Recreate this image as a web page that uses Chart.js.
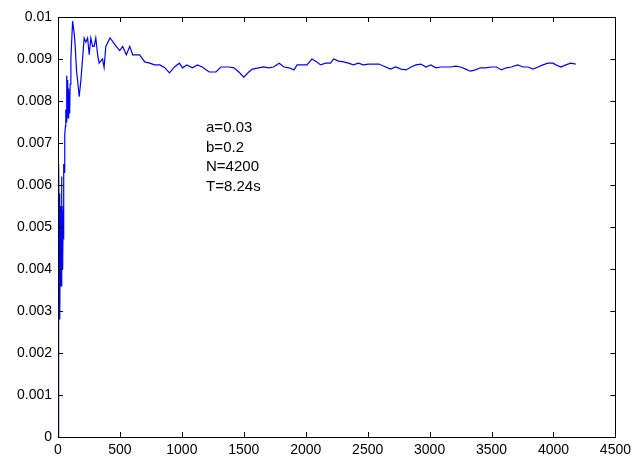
<!DOCTYPE html>
<html>
<head>
<meta charset="utf-8">
<script src="https://cdn.jsdelivr.net/npm/chart.js@4/dist/chart.umd.min.js"></script>
<style>
  html, body { margin: 0; padding: 0; background: #fff; }
  #wrap { width: 636px; height: 459px; position: relative; }
</style>
</head>
<body>
<div id="wrap"><canvas id="c" width="636" height="459"></canvas></div>
<script>
// Iteration index and the running estimate
const iterations = [
  0, 2, 4, 6, 8, 10, 12, 14, 16, 18, 20, 22, 24, 26, 28, 30, 32, 34, 36, 38,
  40, 42, 44, 46, 48, 50, 53, 56, 60, 63, 66, 69, 72, 75, 78, 81, 84, 88, 91, 94,
  98, 104, 110, 118, 131, 139, 150, 158, 171, 185, 193, 211, 225, 239, 252, 265,
  280, 292, 305, 320, 332, 359, 372, 386, 420, 445, 470, 498, 522, 552, 579, 603,
  659, 700, 740, 780, 820, 860, 900, 940, 980, 1005, 1040, 1085, 1125, 1165, 1220,
  1275, 1315, 1380, 1420, 1460, 1500, 1540, 1570, 1620, 1660, 1700, 1740, 1785,
  1825, 1865, 1905, 1930, 1970, 2010, 2050, 2090, 2120, 2160, 2200, 2225, 2265,
  2305, 2345, 2385, 2425, 2465, 2505, 2545, 2590, 2645, 2685, 2725, 2770, 2810,
  2850, 2890, 2930, 2970, 3010, 3050, 3090, 3130, 3170, 3210, 3250, 3290, 3330,
  3370, 3410, 3450, 3500, 3540, 3580, 3620, 3660, 3710, 3755, 3795, 3835, 3875,
  3915, 3955, 3995, 4020, 4060, 4100, 4140, 4180
];
const estimate = [
  0, 0.0012, 0.0035, 0.0055, 0.0065, 0.0048, 0.0058, 0.0033, 0.0028, 0.0045,
  0.0055, 0.0040, 0.0052, 0.0036, 0.0050, 0.0062, 0.0046, 0.0054, 0.0040, 0.0048,
  0.0042, 0.0055, 0.0047, 0.0060, 0.0065, 0.0063, 0.0068, 0.0072, 0.0074, 0.0078,
  0.0075, 0.0082, 0.0086, 0.0080, 0.0085, 0.0076, 0.0083, 0.0081, 0.0082, 0.0077,
  0.0084, 0.0090, 0.0094, 0.0099, 0.0096, 0.0093, 0.0087, 0.0085, 0.0081, 0.0085,
  0.0088, 0.0095, 0.0094, 0.0095, 0.0091, 0.0095, 0.0093, 0.0093, 0.0095, 0.0091,
  0.0089, 0.0090, 0.0088, 0.0093, 0.0095, 0.0094, 0.0093, 0.0092, 0.0093, 0.0091,
  0.0093, 0.0091, 0.0091, 0.00893, 0.0089, 0.00886, 0.00886, 0.0088, 0.00867,
  0.00881, 0.0089, 0.00879, 0.00886, 0.00879, 0.00886, 0.00881, 0.00869, 0.00869,
  0.00881, 0.00881, 0.00879, 0.00869, 0.00857, 0.00869, 0.00876, 0.00879, 0.00881,
  0.00879, 0.00881, 0.0089, 0.00881, 0.00879, 0.00874, 0.00886, 0.00886, 0.00886,
  0.0090, 0.00893, 0.00886, 0.0089, 0.0089, 0.0090, 0.00895, 0.00893, 0.0089,
  0.00886, 0.0089, 0.00886, 0.00888, 0.00888, 0.00888, 0.00881, 0.00876, 0.00881,
  0.00876, 0.00874, 0.00881, 0.00886, 0.00888, 0.00881, 0.00886, 0.00879, 0.00881,
  0.00881, 0.00881, 0.00883, 0.00881, 0.00876, 0.00871, 0.00874, 0.00879, 0.00879,
  0.00881, 0.00881, 0.00874, 0.00879, 0.00881, 0.00886, 0.00881, 0.00881, 0.00876,
  0.00881, 0.00886, 0.0089, 0.0089, 0.00886, 0.00881, 0.00886, 0.0089, 0.00888
];
const xTicks = [0, 500, 1000, 1500, 2000, 2500, 3000, 3500, 4000, 4500];
const yTicks = [0, 0.001, 0.002, 0.003, 0.004, 0.005, 0.006, 0.007, 0.008, 0.009, 0.01];
const noteLines = ['a=0.03', 'b=0.2', 'N=4200', 'T=8.24s'];

const FONT = '"Liberation Sans", Arial, sans-serif';

// Box around the plot area with short inward ticks on all four sides
const boxTicks = {
  id: 'boxTicks',
  afterDraw(chart) {
    const { ctx, chartArea: a, scales } = chart;
    const len = 5;
    ctx.save();
    ctx.strokeStyle = '#000';
    ctx.lineWidth = 1;
    ctx.beginPath();
    for (const v of xTicks) {
      const px = Math.round(scales.x.getPixelForValue(v)) + 0.5;
      ctx.moveTo(px, a.bottom); ctx.lineTo(px, a.bottom - len);
      ctx.moveTo(px, a.top); ctx.lineTo(px, a.top + len);
    }
    for (const v of yTicks) {
      const py = Math.round(scales.y.getPixelForValue(v)) + 0.5;
      ctx.moveTo(a.left, py); ctx.lineTo(a.left + len, py);
      ctx.moveTo(a.right, py); ctx.lineTo(a.right - len, py);
    }
    ctx.stroke();
    ctx.strokeRect(Math.round(a.left) + 0.5, Math.round(a.top) + 0.5,
      Math.round(a.right - a.left), Math.round(a.bottom - a.top));
    ctx.restore();
  }
};

// Parameter note placed inside the plot
const note = {
  id: 'note',
  afterDraw(chart) {
    const { ctx, scales } = chart;
    const x0 = scales.x.getPixelForValue(1195);
    const y0 = scales.y.getPixelForValue(0.00736);
    ctx.save();
    ctx.fillStyle = '#000';
    ctx.font = '15px ' + FONT;
    ctx.textBaseline = 'middle';
    ctx.textAlign = 'left';
    noteLines.forEach((t, i) => ctx.fillText(t, x0, y0 + i * 19.7));
    ctx.restore();
  }
};

new Chart(document.getElementById('c'), {
  type: 'line',
  data: {
    datasets: [{
      data: iterations.map((x, i) => ({ x, y: estimate[i] })),
      borderColor: '#0000ff',
      borderWidth: 1.2,
      pointRadius: 0,
      tension: 0,
      fill: false
    }]
  },
  options: {
    responsive: false,
    animation: false,
    devicePixelRatio: 1,
    layout: { padding: { left: 0, right: 18, top: 17, bottom: 0 } },
    plugins: { legend: { display: false }, tooltip: { enabled: false } },
    scales: {
      x: {
        type: 'linear',
        min: 0, max: 4500,
        afterBuildTicks: s => { s.ticks = xTicks.map(v => ({ value: v })); },
        afterFit: s => { s.height = 22; },
        grid: { display: false, drawTicks: false },
        border: { display: false },
        ticks: {
          color: '#000',
          font: { family: FONT, size: 14 },
          padding: 5,
          maxRotation: 0,
          autoSkip: false,
          callback: v => String(v)
        }
      },
      y: {
        type: 'linear',
        min: 0, max: 0.01,
        afterBuildTicks: s => { s.ticks = yTicks.map(v => ({ value: v })); },
        afterFit: s => { s.width = 58; },
        grid: { display: false, drawTicks: false },
        border: { display: false },
        ticks: {
          color: '#000',
          font: { family: FONT, size: 14 },
          padding: 6,
          autoSkip: false,
          callback: v => String(Number(v.toFixed(3)))
        }
      }
    }
  },
  plugins: [boxTicks, note]
});
</script>
</body>
</html>
